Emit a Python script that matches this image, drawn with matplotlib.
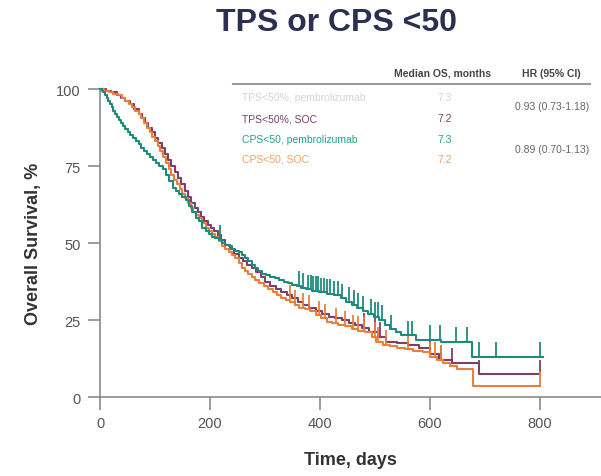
import numpy as np
import matplotlib
matplotlib.use("Agg")
import matplotlib.pyplot as plt

plt.rcParams["font.family"] = ["Liberation Sans", "DejaVu Sans"]

# CPS<50, pembrolizumab (teal)
teal_t = [0, 3, 6, 9, 12, 15, 18, 21, 24, 27, 30, 34, 38, 42, 46, 50, 55, 60, 65, 70, 75, 80, 85,
          90, 96, 102, 108, 114, 120, 126, 132, 138, 144, 150, 156, 162, 168, 174, 180, 186, 192,
          198, 204, 210, 216, 222, 228, 234, 240, 246, 252, 258, 264, 270, 276, 282, 288, 295, 302,
          310, 318, 326, 334, 342, 350, 358, 366, 374, 385, 398, 412, 425, 438, 448, 458, 468, 478,
          488, 498, 508, 518, 528, 538, 548, 575, 620, 676]
teal_s = [100, 99.5, 99, 98, 97, 96, 95, 94, 93, 92, 91, 90, 89, 88, 87, 86, 85, 84, 83, 82, 81, 80, 79,
          78, 77, 76, 75, 74, 72, 70, 68, 67, 66, 65, 64, 62, 60, 58, 57, 55, 54,
          53, 52, 51.5, 51, 50, 49.5, 49, 48, 47.5, 47, 46, 45, 44, 43, 42, 41, 40, 39.5,
          39, 38.5, 38, 37.5, 37, 36.5, 36, 35.5, 35, 34.5, 34, 33.5, 33, 32, 31, 30, 29, 28,
          27, 26, 25, 23.5, 22, 21, 20, 18.5, 18, 13]
teal_end = 805
teal_cens = [218, 362, 370, 378, 383, 388, 392, 397, 402, 407, 412, 418, 425, 432, 440, 452,
             462, 470, 478, 492, 500, 506, 512, 530, 560, 568, 600, 618, 648, 668, 690, 720, 800]

# CPS<50, SOC (orange)
orange_t = [0, 8, 16, 24, 32, 40, 46, 52, 58, 64, 70, 75, 80, 85, 90, 95, 100, 105, 110, 115, 120,
            125, 130, 135, 140, 145, 150, 155, 160, 165, 170, 175, 180, 186, 192, 198, 204, 210,
            216, 222, 228, 234, 240, 246, 252, 258, 264, 270, 276, 282, 290, 298, 306, 314, 322,
            330, 338, 346, 354, 362, 372, 382, 392, 402, 412, 422, 432, 445, 458, 470, 482, 494,
            502, 515, 528, 540, 555, 570, 587, 600, 612, 624, 636, 650, 678]
orange_s = [100, 99.5, 99, 98.5, 98, 97, 96, 95, 94, 93, 92, 90.5, 89, 87.5, 86, 84.5, 83, 81.5, 80, 78, 76,
            74, 72, 70.5, 69, 67.5, 66, 64.5, 63, 61.5, 60, 59, 58, 56.5, 55, 54, 53, 52,
            50.5, 49, 48, 47, 46, 45, 43.5, 42, 41, 40, 39, 38, 37, 36, 35, 34, 33,
            32, 31.5, 31, 30, 29, 28.5, 28, 26.5, 25.5, 24.5, 24, 23.5, 23, 22, 21.5, 21, 19.5,
            18, 17, 16.5, 16, 15.5, 15, 14.5, 13, 12, 11, 10, 9, 3.6]
orange_end = 800
orange_cens = [345, 355, 370, 380, 398, 410, 430, 445, 460, 470, 480, 500, 505, 520, 560, 600,
               610, 620, 800]

# TPS<50%, SOC (purple)
purple_t = [0, 10, 20, 30, 38, 46, 54, 62, 70, 76, 82, 88, 94, 100, 106, 112, 118, 124, 130, 136,
            142, 148, 154, 160, 166, 172, 178, 184, 190, 196, 202, 208, 214, 220, 228, 236, 244,
            252, 260, 268, 276, 284, 292, 300, 310, 320, 330, 340, 350, 360, 370, 380, 392, 404,
            416, 428, 440, 452, 464, 476, 490, 505, 520, 540, 560, 580, 600, 617, 640, 690]
purple_s = [100, 99.5, 99, 98, 97, 96, 95, 93.5, 92, 90.5, 89, 87.5, 86, 84, 82.5, 81, 79, 77, 75, 73,
            71, 69, 67, 65, 63, 61.5, 60, 58.5, 57, 56, 55, 54, 52.5, 51, 49.5, 48, 46.5,
            45, 44, 43, 42, 40.5, 39, 37.5, 36, 35, 34, 33, 32, 31, 30, 29, 28, 27,
            26, 25.5, 25, 24, 23.5, 22.5, 21, 19.5, 18, 17.5, 17, 16, 14, 12, 11, 7.4]
purple_end = 800
purple_cens = [480, 500, 510, 600, 620, 640, 690, 800]

row_labels = ["TPS<50%, pembrolizumab", "TPS<50%, SOC", "CPS<50, pembrolizumab", "CPS<50, SOC"]
row_median = ["7.3", "7.2", "7.3", "7.2"]
hr_labels = ["0.93 (0.73-1.18)", "0.89 (0.70-1.13)"]
row_colors = ["#d4d4d4", "#7d3f6e", "#21a08c", "#f0a064"]

x_ticks = [0, 200, 400, 600, 800]
y_ticks = [0, 25, 50, 75, 100]


def step_value(t, s, x):
    idx = np.searchsorted(t, x, side="right") - 1
    return np.asarray(s)[idx]


def draw_curve(ax, t, s, t_end, cens, color):
    tt = list(t) + [t_end]
    ss = list(s) + [s[-1]]
    ax.step(tt, ss, where="post", color=color, lw=1.5, clip_on=False, zorder=3)
    cy = step_value(t, s, np.array(cens))
    ax.plot(cens, cy + 2.5, ls="none", marker="|", ms=10, mew=1.3, color=color, zorder=3)


fig = plt.figure(figsize=(6.01, 4.77), dpi=100)
ax = fig.add_axes([0.1664, 0.1656, 0.8336, 0.6457])

draw_curve(ax, purple_t, purple_s, purple_end, purple_cens, "#7d3f6e")
draw_curve(ax, orange_t, orange_s, orange_end, orange_cens, "#e8803a")
draw_curve(ax, teal_t, teal_s, teal_end, teal_cens, "#1b8c7c")

ax.set_xlim(0, 911)
ax.set_ylim(0, 100)
ax.set_xticks(x_ticks)
ax.set_yticks(y_ticks)
for side in ["top", "right"]:
    ax.spines[side].set_visible(False)
for side in ["left", "bottom"]:
    ax.spines[side].set_color("#8a8a8a")
    ax.spines[side].set_linewidth(1.2)
ax.tick_params(axis="both", color="#8a8a8a", width=1.2, length=9, labelsize=10.5,
               labelcolor="#555555", pad=5)

ax.set_xlabel("Time, days", fontsize=13, fontweight="bold", color="#333333", labelpad=15)
ax.set_ylabel("Overall Survival, %", fontsize=13, fontweight="bold", color="#333333", labelpad=10)

fig.text(0.56, 0.952, "TPS or CPS <50", ha="center", va="center", fontsize=23,
         fontweight="bold", color="#2b3050")

# survival table
fig.text(443 / 601, 1 - 74 / 477, "Median OS, months", ha="center", va="center",
         fontsize=7.5, fontweight="bold", color="#444444")
fig.text(551 / 601, 1 - 74 / 477, "HR (95% CI)", ha="center", va="center",
         fontsize=7.5, fontweight="bold", color="#444444")
fig.add_artist(plt.Line2D([233 / 601, 590 / 601], [1 - 85 / 477, 1 - 85 / 477],
                          color="#999999", lw=1.5))
row_y = [98, 119, 140, 160]
for lab, med, col, y in zip(row_labels, row_median, row_colors, row_y):
    fig.text(242 / 601, 1 - y / 477, lab, ha="left", va="center", fontsize=7.5, color=col)
    fig.text(445 / 601, 1 - y / 477, med, ha="center", va="center", fontsize=7.5, color=col)
for lab, y in zip(hr_labels, [107, 150]):
    fig.text(552 / 601, 1 - y / 477, lab, ha="center", va="center", fontsize=7.5, color="#666666")

fig.savefig("out.png", dpi=100)
